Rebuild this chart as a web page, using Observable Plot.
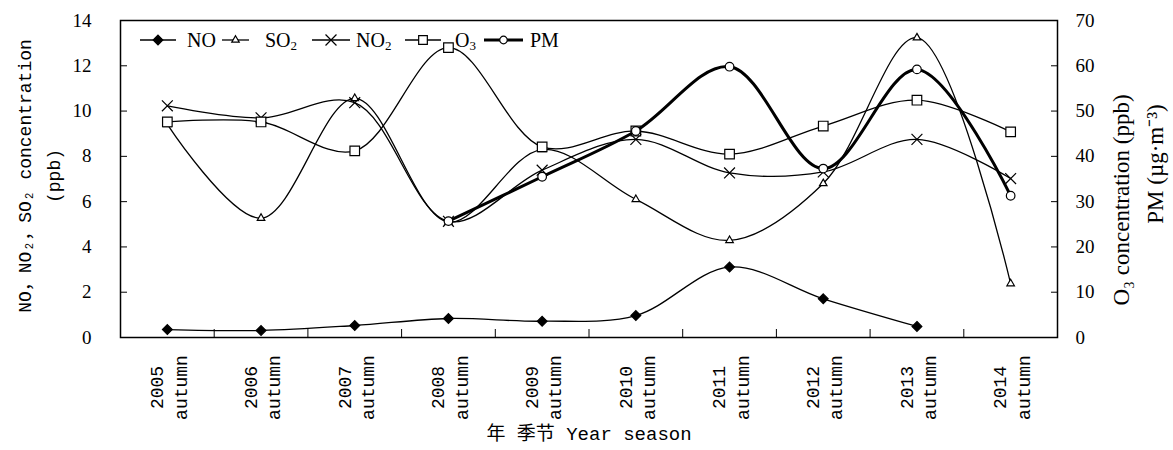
<!DOCTYPE html>
<html>
<head>
<meta charset="utf-8">
<script src="https://cdn.jsdelivr.net/npm/d3@7"></script>
<script src="https://cdn.jsdelivr.net/npm/@observablehq/plot@0.6"></script>
<style>
  body { margin: 0; background: #fff; }
  #chart { width: 1173px; height: 450px; }
</style>
</head>
<body>
<div id="chart"></div>
<script>
// Autumn campaign years
const years = ["2005", "2006", "2007", "2008", "2009", "2010", "2011", "2012", "2013", "2014"];
const season = "autumn";

// Left axis series (ppb)
const no  = [0.35, 0.31, 0.53, 0.84, 0.72, 0.97, 3.11, 1.71, 0.49, null];
const so2 = [9.41, 5.27, 10.56, 5.10, 8.30, 6.10, 4.29, 6.80, 13.24, 2.38];
const no2 = [10.23, 9.70, 10.37, 5.13, 7.39, 8.75, 7.27, 7.31, 8.75, 7.02];

// Right axis series: O3 (ppb) and PM (µg·m-3)
const o3 = [47.6, 47.6, 41.2, 64.0, 42.1, 45.6, 40.5, 46.7, 52.4, 45.4];
const pm = [null, null, null, 25.7, 35.5, 45.6, 59.8, 37.3, 59.2, 31.3];

// Axis ticks
const leftTicks = [0, 2, 4, 6, 8, 10, 12, 14];
const rightTicks = [0, 10, 20, 30, 40, 50, 60, 70];

const leftMax = 14, rightMax = 70;
const toLeft = v => v * leftMax / rightMax;   // right-axis value on the shared y scale

const rows = (values, scale = v => v) =>
  values.map((v, i) => ({i, v: v == null ? null : scale(v)})).filter(d => d.v != null);

const serif = "'Liberation Serif', 'Times New Roman', serif";
const mono = "'Liberation Mono', 'Noto Sans CJK SC', monospace";

const series = [
  {name: "NO",  data: rows(no),          symbol: "diamond2",  r: 4.4, fill: "#000", width: 1.3},
  {name: "SO2", data: rows(so2),         symbol: "triangle2", r: 3.6, fill: "#fff", width: 1.3},
  {name: "NO2", data: rows(no2),         symbol: "times",     r: 5.0, fill: "none", width: 1.3},
  {name: "O3",  data: rows(o3, toLeft),  symbol: "square",    r: 5.4, fill: "#fff", width: 1.3},
  {name: "PM",  data: rows(pm, toLeft),  symbol: "circle",    r: 4.3, fill: "#fff", width: 3}
];

const seriesMarks = series.flatMap(s => [
  Plot.line(s.data, {x: "i", y: "v", curve: "catmull-rom", stroke: "#000", strokeWidth: s.width}),
  Plot.dot(s.data, {x: "i", y: "v", symbol: s.symbol, r: s.r, fill: s.fill, stroke: "#000", strokeWidth: 1.2})
]);

const chart = Plot.plot({
  width: 1173,
  height: 450,
  marginLeft: 120,
  marginRight: 116,
  marginTop: 20,
  marginBottom: 113,
  x: {type: "linear", domain: [-0.5, years.length - 0.5]},
  y: {domain: [0, leftMax]},
  style: {background: "#fff", color: "#000"},
  marks: [
    // left axis (NO, NO2, SO2)
    Plot.axisY(leftTicks, {anchor: "left", tickSize: -7, tickPadding: 36, label: null,
      fontFamily: serif, fontSize: 19}),
    // right axis (O3, PM), shares the y scale
    Plot.axisY(leftTicks, {anchor: "right", tickSize: -7, tickPadding: 25, label: null,
      tickFormat: d => String(d * rightMax / leftMax), fontFamily: serif, fontSize: 19}),
    // category separators on the x axis
    Plot.axisX(d3.range(0.5, years.length - 1, 1), {anchor: "bottom", tickSize: -8,
      tickFormat: () => "", label: null}),
    // category labels
    Plot.text(years.map((y, i) => ({i, label: `${y}\n${season}`})), {
      x: "i", text: "label", frameAnchor: "bottom", dy: 50, rotate: -90,
      textAnchor: "middle", lineAnchor: "middle", lineHeight: 1.3,
      fontFamily: mono, fontSize: 18, fill: "#000"
    }),
    // axis titles
    Plot.text(["年 季节 Year season"], {frameAnchor: "bottom", dy: 102, textAnchor: "middle",
      fontFamily: mono, fontSize: 19, fill: "#000"}),
    Plot.text(["NO，NO₂，SO₂ concentration\n(ppb)"], {frameAnchor: "left", dx: -84, dy: -3,
      rotate: -90, textAnchor: "middle", lineAnchor: "middle", lineHeight: 1.6,
      fontFamily: mono, fontSize: 18, fill: "#000"}),
    Plot.text(["O₃ concentration (ppb)"], {frameAnchor: "right", dx: 64, dy: 21,
      rotate: -90, textAnchor: "middle", lineAnchor: "middle", fontFamily: serif, fontSize: 23, fill: "#000"}),
    Plot.text(["PM (µg·m⁻³)"], {frameAnchor: "right", dx: 98, dy: -15,
      rotate: -90, textAnchor: "middle", lineAnchor: "middle", fontFamily: serif, fontSize: 23, fill: "#000"}),
    ...seriesMarks,
    Plot.frame({stroke: "#000", strokeWidth: 1.5})
  ]
});

document.getElementById("chart").append(chart);

// Legend row inside the plot area, top-left
const legendItems = [
  {label: "NO",  sub: "",  symbol: d3.symbolDiamond2,  size: 60,  fill: "#000", width: 1.3, x0: 140, x1: 176, tx: 187},
  {label: "SO",  sub: "2", symbol: d3.symbolTriangle2, size: 40,  fill: "#fff", width: 1.3, x0: 222, x1: 249, tx: 265},
  {label: "NO",  sub: "2", symbol: d3.symbolTimes,     size: 80,  fill: "none", width: 1.3, x0: 312, x1: 350, tx: 356},
  {label: "O",   sub: "3", symbol: d3.symbolSquare,    size: 75,  fill: "#fff", width: 1.3, x0: 405, x1: 441, tx: 455},
  {label: "PM",  sub: "",  symbol: d3.symbolCircle,    size: 45,  fill: "#fff", width: 3,   x0: 484, x1: 523, tx: 530}
];
const svg = d3.select(chart);
const legend = svg.append("g").attr("class", "legend").attr("text-anchor", "start");
const ly = 40;
for (const item of legendItems) {
  const g = legend.append("g");
  g.append("line").attr("x1", item.x0).attr("x2", item.x1).attr("y1", ly).attr("y2", ly)
    .attr("stroke", "#000").attr("stroke-width", item.width);
  g.append("path").attr("d", d3.symbol(item.symbol, item.size)())
    .attr("transform", `translate(${(item.x0 + item.x1) / 2},${ly})`)
    .attr("fill", item.fill).attr("stroke", "#000").attr("stroke-width", 1.2);
  const t = g.append("text").attr("x", item.tx).attr("y", ly + 7)
    .attr("font-family", serif).attr("font-size", 20).attr("fill", "#000")
    .text(item.label);
  if (item.sub) t.append("tspan").attr("font-size", 13).attr("dy", 3).text(item.sub);
}
</script>
</body>
</html>
